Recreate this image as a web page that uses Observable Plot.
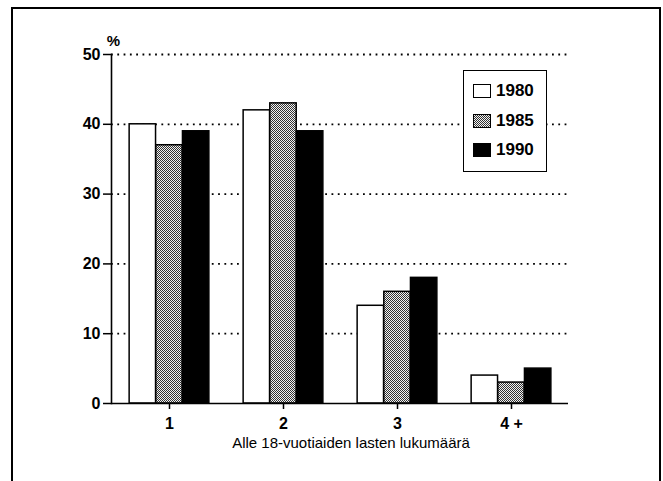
<!DOCTYPE html>
<html><head><meta charset="utf-8">
<script src="https://cdn.jsdelivr.net/npm/d3@7"></script>
<script src="https://cdn.jsdelivr.net/npm/@observablehq/plot@0.6"></script>
<style>
body{margin:0;background:#fff;}
#wrap{position:relative;width:663px;height:481px;overflow:hidden;font-family:"Liberation Sans",Arial,Helvetica,sans-serif;color:#000;}
#wrap svg{position:absolute;left:0;top:0;}
#border{position:absolute;left:11px;top:7px;width:646px;height:490px;border:2px solid #000;border-bottom:none;}
#legend{position:absolute;left:463px;top:70px;width:82px;height:100px;border:1.5px solid #000;background:#fff;}
.row{position:absolute;left:9px;height:16px;display:flex;align-items:center;font-size:17px;font-weight:bold;}
.sw{width:18px;height:14px;border:1.5px solid #000;margin-right:5px;box-sizing:border-box;}
</style></head>
<body><div id="wrap"><div id="border"></div></div>
<script>
const categories = ["1", "2", "3", "4 +"];
const years = ["1980", "1985", "1990"];
const v1980 = [40, 42, 14, 4];
const v1985 = [37, 43, 16, 3];
const v1990 = [39, 39, 18, 5];
const yTicks = [0, 10, 20, 30, 40, 50];
const yLabel = "%";
const xLabel = "Alle 18-vuotiaiden lasten lukumäärä";
const fills = ["#ffffff", "url(#stip)", "#000000"];

const seriesList = [v1980, v1985, v1990];
const data = categories.flatMap((c, i) => years.map((yr, j) => ({category: c, year: yr, value: seriesList[j][i]})));

const W = 663, H = 481, ML = 111, MR = 95, MT = 54, MB = 78;
const step = (W - ML - MR) / categories.length;
const groupFrac = 0.7, outerFrac = (1 - groupFrac) / 2;
const barFrac = groupFrac / years.length;

const barMarks = years.map((yr, j) => Plot.barY(data.filter(d => d.year === yr), {
  x: "category", y: "value", fill: "year", stroke: "#000", strokeWidth: 1.5,
  insetLeft: step * (outerFrac + j * barFrac),
  insetRight: step * (1 - outerFrac - (j + 1) * barFrac)
}));

const svg = Plot.plot({
  width: W, height: H,
  marginLeft: ML, marginRight: MR, marginTop: MT, marginBottom: MB,
  style: {fontFamily: '"Liberation Sans", Arial, Helvetica, sans-serif', fontSize: "15px", background: "transparent", color: "#000", overflow: "visible"},
  x: {domain: categories, padding: 0, label: null},
  y: {domain: [0, 50], label: null},
  color: {domain: years, range: fills},
  marks: [
    Plot.ruleY(yTicks.filter(d => d > 0), {stroke: "#000", strokeWidth: 1.8, strokeDasharray: "1.8,4.5"}),
    ...barMarks,
    Plot.ruleY([0], {stroke: "#000", strokeWidth: 1.6}),
    Plot.frame({anchor: "left", stroke: "#000", strokeWidth: 1.6}),
    Plot.axisY({ticks: yTicks, tickSize: 8, tickPadding: 3, label: null, fontWeight: "bold", strokeWidth: 1.5}),
    Plot.axisX({tickSize: 6, tickPadding: 8, label: null, fontWeight: "bold", strokeWidth: 1.5}),
    Plot.text([yLabel], {frameAnchor: "top-left", dx: 2, dy: -19, textAnchor: "middle", fontSize: 15, fontWeight: "bold"}),
    Plot.text([xLabel], {frameAnchor: "bottom", dx: 11, dy: 44, fontSize: 15})
  ]
});

d3.select(svg).selectAll("g").filter(function() {
  const a = this.getAttribute("aria-label") || "";
  return a.includes("tick label");
}).attr("font-size", 16).style("font-size", "16px").selectAll("text").style("font-size", "16px");

const ns = "http://www.w3.org/2000/svg";
const defs = document.createElementNS(ns, "defs");
defs.innerHTML = '<pattern id="stip" width="2" height="2" patternUnits="userSpaceOnUse"><rect width="2" height="2" fill="#f2f2f2"/><rect width="1" height="1" fill="#333"/><rect x="1" y="1" width="1" height="1" fill="#333"/></pattern>';
svg.insertBefore(defs, svg.firstChild);

const wrap = document.getElementById("wrap");
wrap.appendChild(svg);

const legend = document.createElement("div");
legend.id = "legend";
const cssFills = ["#fff", "repeating-conic-gradient(#333 0 25%, #f2f2f2 0 50%) 0 0/2px 2px", "#000"];
years.forEach((yr, j) => {
  const row = document.createElement("div");
  row.className = "row";
  row.style.top = (12 + j * 29.5) + "px";
  const sw = document.createElement("div");
  sw.className = "sw";
  sw.style.background = cssFills[j];
  const t = document.createElement("span");
  t.textContent = yr;
  row.appendChild(sw);
  row.appendChild(t);
  legend.appendChild(row);
});
wrap.appendChild(legend);
</script>
</body></html>
